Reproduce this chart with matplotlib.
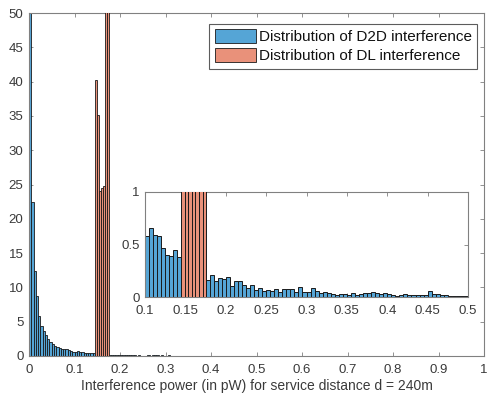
import numpy as np
import matplotlib
matplotlib.use("Agg")
import matplotlib.pyplot as plt

plt.rcParams['font.family'] = ['Liberation Sans', 'DejaVu Sans']

# ---- data ----
bin_width = 0.005
d2d_start = 0.0
# D2D interference histogram heights, bins of 0.005 starting at 0
d2d_low = [130, 22.5, 12.4, 8.7, 5.8, 4.4, 3.6, 3.1, 2.5, 2.1,
           1.75, 1.5, 1.3, 1.15, 1.05, 1.0, 0.95, 0.85, 0.75, 0.65,
           0.58, 0.66, 0.59, 0.58, 0.47, 0.40, 0.39, 0.45, 0.38,
           0.0, 0.0, 0.0, 0.0, 0.0, 0.0]
d2d_mid = [0.16, 0.21, 0.15, 0.18, 0.17, 0.19, 0.105, 0.15, 0.15, 0.11,
           0.09, 0.11, 0.067, 0.09, 0.057, 0.067, 0.057, 0.076, 0.05, 0.08,
           0.076, 0.076, 0.044, 0.10, 0.044, 0.05, 0.09, 0.057,
           0.035, 0.048, 0.035, 0.032, 0.02, 0.032, 0.032, 0.02, 0.035, 0.02,
           0.03, 0.035, 0.038, 0.048, 0.038, 0.032, 0.035, 0.03, 0.02, 0.013,
           0.022, 0.032, 0.022, 0.02, 0.02, 0.022, 0.02, 0.057, 0.025, 0.025,
           0.022, 0.02, 0.006, 0.006, 0.01, 0.01, 0.013]
d2d_tail = [0.012, 0.008, 0.01, 0.006, 0.009, 0.012, 0.005, 0.008, 0.01, 0.004,
            0.007, 0.009, 0.005, 0.006, 0.008, 0.004, 0.006, 0.007, 0.003, 0.005,
            0.006, 0.004, 0.005, 0.003, 0.006, 0.004, 0.003, 0.005, 0.004, 0.002,
            0.004, 0.003, 0.004, 0.002, 0.003, 0.004, 0.002, 0.003, 0.002, 0.003,
            0.002, 0.003, 0.002, 0.002, 0.003, 0.001, 0.002, 0.002, 0.001, 0.002,
            0.002, 0.001, 0.002, 0.001, 0.001, 0.002, 0.001, 0.001, 0.002, 0.001,
            0.001, 0.001, 0.001, 0.001, 0.001, 0.001, 0.001, 0.001, 0.001, 0.001,
            0.001, 0.001, 0.001, 0.001, 0.001, 0.001, 0.001, 0.001, 0.001, 0.001,
            0.001, 0.001, 0.001, 0.001, 0.001, 0.001, 0.001, 0.001, 0.001, 0.001,
            0.001, 0.001, 0.001, 0.001]
d2d_heights = d2d_low + d2d_mid + d2d_tail

# DL interference histogram
dl_start = 0.1445
dl_width = 0.0045
dl_heights = [40.2, 35.1, 24.0, 24.5, 24.8, 75.0, 90.0]

xticks_main = [0, 0.1, 0.2, 0.3, 0.4, 0.5, 0.6, 0.7, 0.8, 0.9, 1]
xticklabels_main = ['0', '0.1', '0.2', '0.3', '0.4', '0.5', '0.6', '0.7', '0.8', '0.9', '1']
yticks_main = [0, 5, 10, 15, 20, 25, 30, 35, 40, 45, 50]
xticks_inset = [0.1, 0.15, 0.2, 0.25, 0.3, 0.35, 0.4, 0.45, 0.5]
xticklabels_inset = ['0.1', '0.15', '0.2', '0.25', '0.3', '0.35', '0.4', '0.45', '0.5']
yticks_inset = [0, 0.5, 1]
yticklabels_inset = ['0', '0.5', '1']

label_d2d = 'Distribution of D2D interference'
label_dl = 'Distribution of DL interference'
xlabel = 'Interference power (in pW) for service distance d = 240m'

# ---- style ----
c_blue = '#55a5d6'
c_orange = '#e9917a'
c_axis = '#3a3a3a'
c_spine = '#808080'

d2d_x = d2d_start + bin_width * np.arange(len(d2d_heights))
dl_x = dl_start + dl_width * np.arange(len(dl_heights))

fig = plt.figure(figsize=(4.87, 3.96), dpi=100)
ax = fig.add_axes([29/487, 40/396, 455/487, 343/396])


def draw(a, lw):
    a.bar(d2d_x, d2d_heights, width=bin_width, align='edge', color=c_blue,
          edgecolor='#1a1a1a', linewidth=lw, label=label_d2d, zorder=2)
    a.bar(dl_x, dl_heights, width=dl_width, align='edge', color=c_orange,
          edgecolor='#1a1a1a', linewidth=lw, label=label_dl, zorder=3)


def style(a, fs, xpad, ypad):
    for s in a.spines.values():
        s.set_color(c_spine)
        s.set_linewidth(0.8)
    a.tick_params(direction='in', length=3, width=0.6, colors=c_spine,
                  labelcolor=c_axis, labelsize=fs, top=True, right=True)
    a.tick_params(axis='x', pad=xpad)
    a.tick_params(axis='y', pad=ypad)


draw(ax, 0.6)
ax.set_xlim(0, 1)
ax.set_ylim(0, 50)
ax.set_xticks(xticks_main)
ax.set_xticklabels(xticklabels_main)
ax.set_yticks(yticks_main)
style(ax, 9.5, 6, 4)
ax.set_xlabel(xlabel, fontsize=10, color=c_axis, labelpad=2)

leg = ax.legend(loc='upper right', bbox_to_anchor=(0.985, 0.968), fontsize=11,
                frameon=True, fancybox=False, handlelength=2.7, handleheight=1.0,
                handletextpad=0.2, borderpad=0.35, labelspacing=0.25,
                borderaxespad=0.0)
leg.get_frame().set_edgecolor('#333333')
leg.get_frame().set_linewidth(0.8)
for t in leg.get_texts():
    t.set_color('#111111')

ins = fig.add_axes([145/487, 99/396, 323/487, 105/396])
draw(ins, 0.7)
ins.set_xlim(0.1, 0.5)
ins.set_ylim(0, 1)
ins.set_xticks(xticks_inset)
ins.set_xticklabels(xticklabels_inset)
ins.set_yticks(yticks_inset)
ins.set_yticklabels(yticklabels_inset)
style(ins, 9.5, 6, 4)

fig.savefig('out.png', dpi=100)
